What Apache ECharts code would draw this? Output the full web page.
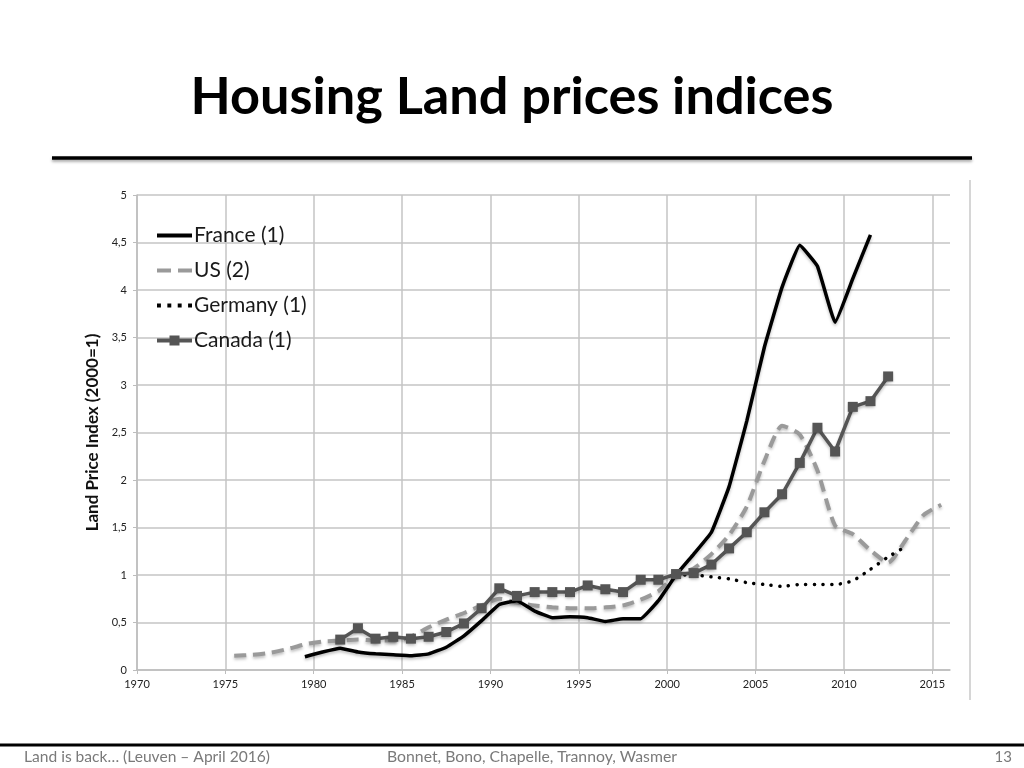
<!DOCTYPE html>
<html><head><meta charset="utf-8">
<script src="https://cdn.jsdelivr.net/npm/echarts@6/dist/echarts.min.js"></script>
<style>html,body{margin:0;padding:0;background:#fff}#c{width:1024px;height:768px}</style>
</head><body><div id="c"></div>
<script>
// ---- data ----
const xTicks = [1970, 1975, 1980, 1985, 1990, 1995, 2000, 2005, 2010, 2015];
const yTicks = [0, 0.5, 1, 1.5, 2, 2.5, 3, 3.5, 4, 4.5, 5];

const franceStart = 1979;
const franceValues = [0.14,0.19,0.23,0.19,0.17,0.16,0.15,0.17,0.24,0.36,
  0.52,0.69,0.73,0.62,0.55,0.56,0.55,0.51,0.54,0.54,
  0.73,1.0,1.22,1.45,1.93,2.62,3.4,4.03,4.47,4.25,
  3.66,4.12,4.58];

const usStart = 1975;
const usValues = [0.15,0.16,0.18,0.22,0.27,0.30,0.31,0.32,0.31,0.31,
  0.35,0.45,0.53,0.60,0.68,0.75,0.71,0.68,0.66,0.65,
  0.65,0.66,0.68,0.74,0.83,1.0,1.07,1.22,1.42,1.72,
  2.2,2.57,2.48,2.1,1.52,1.43,1.26,1.13,1.37,1.63,
  1.74];

const germanyStart = 2000;
const germanyValues = [1.0,1.0,0.98,0.96,0.92,0.90,0.88,0.90,0.90,0.90,0.94,1.06,1.19,1.30];

const canadaStart = 1981;
const canadaValues = [0.32,0.44,0.33,0.35,0.33,0.35,0.40,0.49,0.65,0.86,
  0.78,0.82,0.82,0.82,0.89,0.85,0.82,0.95,0.95,1.01,
  1.02,1.11,1.28,1.45,1.66,1.85,2.18,2.55,2.30,2.77,
  2.83,3.09];

const seriesNames = ['France (1)', 'US (2)', 'Germany (1)', 'Canada (1)'];
const titleText = 'Housing Land prices indices';
const yAxisTitle = 'Land Price Index (2000=1)';
const footerLeft = 'Land is back\u2026 (Leuven \u2013 April 2016)';
const footerCenter = 'Bonnet, Bono, Chapelle, Trannoy, Wasmer';
const footerRight = '13';

// annual observations are plotted at mid-year
function pairs(start, vals) { return vals.map((v, i) => [start + i + 0.5, v]); }

// fit a text to a measured target width by horizontal scaling
const ctx = document.createElement('canvas').getContext('2d');
function fitScale(text, font, target) { ctx.font = font; return target / ctx.measureText(text).width; }

const FONT = 'Lato, "Open Sans", sans-serif';
const titleFont = 'bold 52px Lato';
const titleScale = fitScale(titleText, titleFont, 643);
const footFont = '15px Lato';
const footScaleL = fitScale(footerLeft, footFont, 246);
const footScaleC = fitScale(footerCenter, footFont, 290);

// legend glyphs imitating the line styles
const legendIcons = [
  'path://M0,5h35v4h-35z',
  'path://M0,5h14v4h-14zM21,5h14v4h-14z',
  'path://M1,5h3.6v3.6h-3.6zM10.5,5h3.6v3.6h-3.6zM20,5h3.6v3.6h-3.6zM29.5,5h3.6v3.6h-3.6z',
  'path://M0,5h35v4h-35zM12.5,2h10v10h-10z'
];

const chart = echarts.init(document.getElementById('c'));
const shadow = { shadowColor: 'rgba(0,0,0,0.25)', shadowBlur: 3, shadowOffsetY: 2 };

chart.setOption({
  backgroundColor: '#fff',
  animation: false,
  textStyle: { fontFamily: FONT },
  grid: { left: 137, right: 74, top: 195, bottom: 98, containLabel: false },
  legend: {
    orient: 'vertical', left: 152, top: 220,
    itemWidth: 35, itemHeight: 14, itemGap: 14,
    textStyle: { fontSize: 21, color: '#1a1a1a', fontFamily: FONT, lineHeight: 21, padding: [0, 0, 0, -3] },
    data: seriesNames.map((n, i) => ({ name: n, icon: legendIcons[i] }))
  },
  xAxis: {
    type: 'value', min: 1970, max: 2016, interval: 5,
    axisLine: { show: true, lineStyle: { color: '#bdbdbd', width: 1.5 } },
    axisTick: { show: true, length: 4, lineStyle: { color: '#bdbdbd' } },
    axisLabel: { fontSize: 11, color: '#222', margin: 9, showMaxLabel: false,
      formatter: v => (xTicks.indexOf(v) >= 0 ? String(v) : '') },
    splitLine: { show: true, showMaxLine: false, lineStyle: { color: '#c4c4c4', width: 1.5 } }
  },
  yAxis: {
    type: 'value', min: 0, max: 5, interval: 0.5,
    name: yAxisTitle, nameLocation: 'middle', nameGap: 34, nameRotate: 90,
    nameTextStyle: { fontSize: 17, fontWeight: 'bold', color: '#111', fontFamily: FONT },
    axisLine: { show: true, lineStyle: { color: '#bdbdbd', width: 1.5 } },
    axisTick: { show: true, length: 4, lineStyle: { color: '#bdbdbd' } },
    axisLabel: { fontSize: 11, color: '#222', margin: 10,
      formatter: v => (yTicks.indexOf(v) >= 0 ? String(v).replace('.', ',') : '') },
    splitLine: { show: true, lineStyle: { color: '#c4c4c4', width: 1.5 } }
  },
  series: [
    { name: seriesNames[0], type: 'line', data: pairs(franceStart, franceValues),
      smooth: 0.1, symbol: 'none', z: 3,
      lineStyle: Object.assign({ color: '#000', width: 3.5 }, shadow), itemStyle: { color: '#000' } },
    { name: seriesNames[1], type: 'line', data: pairs(usStart, usValues),
      smooth: 0.2, symbol: 'none', z: 2,
      lineStyle: Object.assign({ color: '#9a9a9a', width: 4, type: [12, 7] }, shadow), itemStyle: { color: '#9a9a9a' } },
    { name: seriesNames[2], type: 'line', data: pairs(germanyStart, germanyValues),
      smooth: 0.2, symbol: 'none', z: 2,
      lineStyle: { color: '#000', width: 3.5, type: [0.1, 8.6], cap: 'round' }, itemStyle: { color: '#000' } },
    { name: seriesNames[3], type: 'line', data: pairs(canadaStart, canadaValues),
      symbol: 'rect', symbolSize: 10, showSymbol: true, z: 4,
      lineStyle: Object.assign({ color: '#555', width: 3.5 }, shadow),
      itemStyle: Object.assign({ color: '#555' }, shadow) }
  ],
  graphic: [
    { type: 'text', silent: true, x: 512, y: 97, scaleX: titleScale, scaleY: 1,
      style: { text: titleText, font: titleFont, fill: '#000', align: 'center', verticalAlign: 'middle' } },
    { type: 'line', silent: true, shape: { x1: 52, y1: 158, x2: 972, y2: 158 },
      style: { stroke: '#000', lineWidth: 3.5, shadowColor: 'rgba(0,0,0,0.35)', shadowBlur: 3, shadowOffsetY: 2 } },
    { type: 'line', silent: true, shape: { x1: 970, y1: 180, x2: 970, y2: 700 },
      style: { stroke: '#c8c8c8', lineWidth: 1.5 } },
    { type: 'line', silent: true, shape: { x1: 0, y1: 745, x2: 1024, y2: 745 },
      style: { stroke: '#000', lineWidth: 3 } },
    { type: 'text', silent: true, x: 24, y: 757, scaleX: footScaleL,
      style: { text: footerLeft, font: footFont, fill: '#7a7a7a', align: 'left', verticalAlign: 'middle' } },
    { type: 'text', silent: true, x: 532, y: 757, scaleX: footScaleC,
      style: { text: footerCenter, font: footFont, fill: '#7a7a7a', align: 'center', verticalAlign: 'middle' } },
    { type: 'text', silent: true, x: 1012, y: 757,
      style: { text: footerRight, font: footFont, fill: '#7a7a7a', align: 'right', verticalAlign: 'middle' } }
  ]
});
</script></body></html>
